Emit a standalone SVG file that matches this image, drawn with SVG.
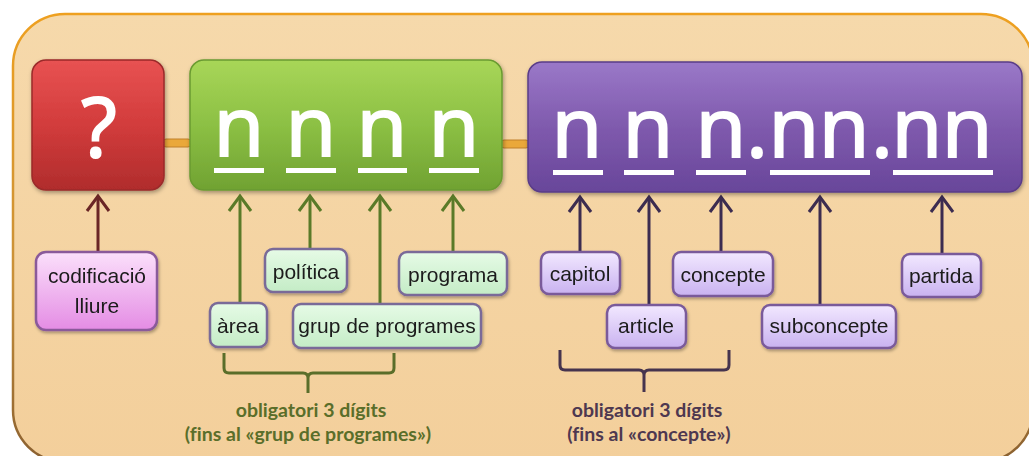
<svg xmlns="http://www.w3.org/2000/svg" width="1029" height="456" viewBox="0 0 1029 456">
<style>
.big{font-family:"Open Sans",Lato,"Liberation Sans",sans-serif;font-size:82px;fill:#ffffff;stroke:#ffffff;stroke-width:2.2;text-anchor:middle}
.lbl{font-family:"Liberation Sans",Arial,sans-serif;font-size:21px;fill:#1a1a1a;text-anchor:middle}
.note{font-family:Lato,"Liberation Sans",sans-serif;font-weight:bold;font-size:19.5px;text-anchor:middle;font-variant-ligatures:none}
.ul{fill:#ffffff}
.gbox{fill:url(#gLbl);stroke:#7a6a98;stroke-width:2.5}
.pbox{fill:url(#pLbl);stroke:#7a5a9a;stroke-width:2.5}
.cbox{fill:url(#kLbl);stroke:#8a5a9a;stroke-width:2.5}
.pill{fill:#eaa83a;stroke:#c0802a;stroke-width:1}
</style>
<defs>
<linearGradient id="bg" x1="0" y1="0" x2="0" y2="1"><stop offset="0" stop-color="#f6d9ab"/><stop offset="1" stop-color="#f3cf9b"/></linearGradient>
<linearGradient id="bgStroke" x1="0" y1="0" x2="0" y2="1"><stop offset="0" stop-color="#eea020"/><stop offset="0.6" stop-color="#c8903a"/><stop offset="1" stop-color="#8a6030"/></linearGradient>
<linearGradient id="red" x1="0" y1="0" x2="0" y2="1"><stop offset="0" stop-color="#e85252"/><stop offset="0.5" stop-color="#d23c3c"/><stop offset="1" stop-color="#b02c2c"/></linearGradient>
<linearGradient id="green" x1="0" y1="0" x2="0" y2="1"><stop offset="0" stop-color="#a8d658"/><stop offset="0.5" stop-color="#8cc044"/><stop offset="1" stop-color="#70a232"/></linearGradient>
<linearGradient id="purple" x1="0" y1="0" x2="0" y2="1"><stop offset="0" stop-color="#9a78c8"/><stop offset="0.5" stop-color="#7f5aad"/><stop offset="1" stop-color="#68469a"/></linearGradient>
<linearGradient id="gLbl" x1="0" y1="0" x2="0" y2="1"><stop offset="0" stop-color="#e6fbe6"/><stop offset="1" stop-color="#c4ecc6"/></linearGradient>
<linearGradient id="pLbl" x1="0" y1="0" x2="0" y2="1"><stop offset="0" stop-color="#f2e8ff"/><stop offset="1" stop-color="#c9b2f0"/></linearGradient>
<linearGradient id="kLbl" x1="0" y1="0" x2="0" y2="1"><stop offset="0" stop-color="#fbe0fb"/><stop offset="1" stop-color="#e48ce4"/></linearGradient>
<filter id="sh" x="-10%" y="-10%" width="130%" height="140%"><feDropShadow dx="1" dy="2" stdDeviation="2" flood-color="#000" flood-opacity="0.35"/></filter>
<filter id="sh2" x="-10%" y="-10%" width="130%" height="140%"><feDropShadow dx="1" dy="2" stdDeviation="1.5" flood-color="#000" flood-opacity="0.3"/></filter>
<marker id="aR" markerUnits="userSpaceOnUse" markerWidth="22" markerHeight="28" viewBox="-18 -14 22 28" refX="0" refY="0" orient="auto"><path d="M-15,-11 L0,0 L-15,11" fill="none" stroke="#6a2626" stroke-width="3"/></marker>
<marker id="aG" markerUnits="userSpaceOnUse" markerWidth="22" markerHeight="28" viewBox="-18 -14 22 28" refX="0" refY="0" orient="auto"><path d="M-15,-11 L0,0 L-15,11" fill="none" stroke="#5a7a28" stroke-width="3"/></marker>
<marker id="aP" markerUnits="userSpaceOnUse" markerWidth="22" markerHeight="28" viewBox="-18 -14 22 28" refX="0" refY="0" orient="auto"><path d="M-15,-11 L0,0 L-15,11" fill="none" stroke="#3c2c50" stroke-width="3"/></marker>
</defs>

<rect x="0" y="0" width="1029" height="456" fill="#ffffff"/>
<rect id="panel" x="13" y="14" width="1020" height="448" rx="52" fill="url(#bg)" stroke="url(#bgStroke)" stroke-width="2.5"/>

<g id="connectors" fill="none" stroke-width="3">
  <rect class="pill" x="162" y="139" width="30" height="8" rx="4"/>
  <rect class="pill" x="500" y="140" width="30" height="8" rx="4"/>
  <line x1="98" y1="252" x2="98" y2="196" stroke="#6a2626" marker-end="url(#aR)"/>
  <line x1="240" y1="303" x2="240" y2="196" stroke="#5a7a28" marker-end="url(#aG)"/>
  <line x1="310" y1="249" x2="310" y2="196" stroke="#5a7a28" marker-end="url(#aG)"/>
  <line x1="380" y1="304" x2="380" y2="196" stroke="#5a7a28" marker-end="url(#aG)"/>
  <line x1="453" y1="252" x2="453" y2="196" stroke="#5a7a28" marker-end="url(#aG)"/>
  <line x1="580" y1="252" x2="580" y2="197" stroke="#3c2c50" marker-end="url(#aP)"/>
  <line x1="649" y1="305" x2="649" y2="197" stroke="#3c2c50" marker-end="url(#aP)"/>
  <line x1="721" y1="252" x2="721" y2="197" stroke="#3c2c50" marker-end="url(#aP)"/>
  <line x1="820" y1="305" x2="820" y2="197" stroke="#3c2c50" marker-end="url(#aP)"/>
  <line x1="942" y1="254" x2="942" y2="197" stroke="#3c2c50" marker-end="url(#aP)"/>
  <path d="M224,353 V368 Q224,373 229,373 H303 Q308,373 308,378 V393 M308,378 Q308,373 313,373 H389 Q394,373 394,368 V353" stroke="#5a6e2a"/>
  <path d="M560,350 V365 Q560,370 565,370 H639 Q644,370 644,375 V392 M644,375 Q644,370 649,370 H724 Q729,370 729,365 V350" stroke="#46344e"/>
</g>

<g id="box-free" filter="url(#sh)">
  <rect x="32" y="60" width="132" height="130" rx="14" fill="url(#red)" stroke="#9a2a2a" stroke-width="1.5"/>
  <text class="big" x="99" y="157">?</text>
</g>

<g id="box-program" filter="url(#sh)">
  <rect x="190" y="60" width="312" height="130" rx="14" fill="url(#green)" stroke="#6a9a30" stroke-width="1.5"/>
  <text class="big" x="239" y="156">n</text>
  <text class="big" x="311" y="156">n</text>
  <text class="big" x="382" y="156">n</text>
  <text class="big" x="454" y="156">n</text>
  <rect class="ul" x="214" y="168" width="50" height="5"/>
  <rect class="ul" x="286" y="168" width="50" height="5"/>
  <rect class="ul" x="358" y="168" width="49" height="5"/>
  <rect class="ul" x="429" y="168" width="50" height="5"/>
</g>

<g id="box-economic" filter="url(#sh)">
  <rect x="528" y="62" width="494" height="130" rx="14" fill="url(#purple)" stroke="#5a3c88" stroke-width="1.5"/>
  <text class="big" x="577" y="157">n</text>
  <text class="big" x="648" y="157">n</text>
  <text class="big" x="721" y="157">n</text>
  <text class="big" x="757" y="157">.</text>
  <text class="big" x="819" y="157">nn</text>
  <text class="big" x="882" y="157">.</text>
  <text class="big" x="942" y="157">nn</text>
  <rect class="ul" x="553" y="170" width="50" height="5"/>
  <rect class="ul" x="624" y="170" width="50" height="5"/>
  <rect class="ul" x="696" y="170" width="50" height="5"/>
  <rect class="ul" x="770" y="170" width="100" height="5"/>
  <rect class="ul" x="893" y="170" width="100" height="5"/>
</g>

<g id="lbl-codificacio" filter="url(#sh2)">
  <rect class="cbox" x="36" y="252" width="121" height="78" rx="10"/>
  <text class="lbl" x="97" y="283">codificació</text>
  <text class="lbl" x="97" y="313">lliure</text>
</g>
<g id="lbl-politica" filter="url(#sh2)">
  <rect class="gbox" x="265" y="249" width="82" height="43" rx="8"/>
  <text class="lbl" x="306" y="279">política</text>
</g>
<g id="lbl-programa" filter="url(#sh2)">
  <rect class="gbox" x="399" y="252" width="108" height="43" rx="8"/>
  <text class="lbl" x="453" y="282">programa</text>
</g>
<g id="lbl-area" filter="url(#sh2)">
  <rect class="gbox" x="210" y="303" width="57" height="44" rx="8"/>
  <text class="lbl" x="238" y="333">àrea</text>
</g>
<g id="lbl-grup" filter="url(#sh2)">
  <rect class="gbox" x="293" y="304" width="188" height="44" rx="8"/>
  <text class="lbl" x="387" y="333">grup de programes</text>
</g>
<g id="lbl-capitol" filter="url(#sh2)">
  <rect class="pbox" x="541" y="252" width="79" height="42" rx="8"/>
  <text class="lbl" x="580" y="281">capitol</text>
</g>
<g id="lbl-article" filter="url(#sh2)">
  <rect class="pbox" x="607" y="305" width="79" height="43" rx="8"/>
  <text class="lbl" x="646" y="333">article</text>
</g>
<g id="lbl-concepte" filter="url(#sh2)">
  <rect class="pbox" x="673" y="252" width="100" height="44" rx="8"/>
  <text class="lbl" x="723" y="282">concepte</text>
</g>
<g id="lbl-subconcepte" filter="url(#sh2)">
  <rect class="pbox" x="762" y="305" width="134" height="43" rx="8"/>
  <text class="lbl" x="829" y="333">subconcepte</text>
</g>
<g id="lbl-partida" filter="url(#sh2)">
  <rect class="pbox" x="902" y="254" width="79" height="43" rx="8"/>
  <text class="lbl" x="941" y="283">partida</text>
</g>

<g id="note-program">
  <text class="note" x="311" y="417" fill="#5a6e2a">obligatori 3 dígits</text>
  <text class="note" x="308" y="441" fill="#5a6e2a">(fins al «grup de programes»)</text>
</g>
<g id="note-economic">
  <text class="note" x="647" y="417" fill="#4e3850">obligatori 3 dígits</text>
  <text class="note" x="649" y="441" fill="#4e3850">(fins al «concepte»)</text>
</g>
</svg>
